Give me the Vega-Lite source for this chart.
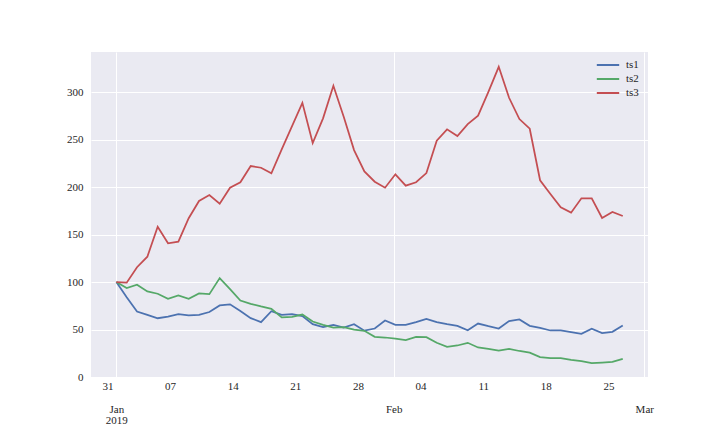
{
  "$schema": "https://vega.github.io/schema/vega-lite/v6.json",
  "width": 557,
  "height": 325,
  "autosize": "none",
  "padding": {"left": 91, "top": 52, "right": 72, "bottom": 55},
  "background": "white",
  "config": {
    "view": {"fill": "#EAEAF2", "stroke": null},
    "font": "Liberation Serif",
    "axis": {"labelFont": "Liberation Serif", "labelFontSize": 11, "labelColor": "#262626", "domain": false, "ticks": false, "gridColor": "white", "gridWidth": 1, "title": null},
    "legend": {"labelFont": "Liberation Serif", "labelFontSize": 11, "labelColor": "#262626"}
  },
  "data": {
    "values": [
      {"date": "2019-01-01T00:00", "ts1": 100, "ts2": 100, "ts3": 100},
      {"date": "2019-01-02T03:43", "ts1": 84, "ts2": 93.7, "ts3": 99.4},
      {"date": "2019-01-03T07:26", "ts1": 69.0, "ts2": 97.2, "ts3": 115.6},
      {"date": "2019-01-04T11:10", "ts1": 65.5, "ts2": 90.1, "ts3": 126.7},
      {"date": "2019-01-05T14:53", "ts1": 61.9, "ts2": 87.7, "ts3": 158.3},
      {"date": "2019-01-06T18:36", "ts1": 63.7, "ts2": 82.4, "ts3": 140.8},
      {"date": "2019-01-07T22:19", "ts1": 66.2, "ts2": 85.9, "ts3": 142.5},
      {"date": "2019-01-09T02:02", "ts1": 64.8, "ts2": 82.4, "ts3": 167.2},
      {"date": "2019-01-10T05:46", "ts1": 65.5, "ts2": 88.0, "ts3": 185.4},
      {"date": "2019-01-11T09:29", "ts1": 68.4, "ts2": 87.3, "ts3": 191.7},
      {"date": "2019-01-12T13:12", "ts1": 75.4, "ts2": 104.2, "ts3": 182.5},
      {"date": "2019-01-13T16:55", "ts1": 76.5, "ts2": 92.6, "ts3": 199.4},
      {"date": "2019-01-14T20:38", "ts1": 69.5, "ts2": 80.6, "ts3": 205.1},
      {"date": "2019-01-16T00:22", "ts1": 62.0, "ts2": 77.1, "ts3": 222.2},
      {"date": "2019-01-17T04:05", "ts1": 57.8, "ts2": 74.3, "ts3": 220.4},
      {"date": "2019-01-18T07:48", "ts1": 69.3, "ts2": 71.8, "ts3": 214.5},
      {"date": "2019-01-19T11:31", "ts1": 65.5, "ts2": 62.7, "ts3": 239.8},
      {"date": "2019-01-20T15:14", "ts1": 66.2, "ts2": 63.4, "ts3": 264.3},
      {"date": "2019-01-21T18:58", "ts1": 64.1, "ts2": 65.8, "ts3": 288.8},
      {"date": "2019-01-22T22:41", "ts1": 55.6, "ts2": 58.4, "ts3": 246.4},
      {"date": "2019-01-24T02:24", "ts1": 52.5, "ts2": 54.9, "ts3": 272.4},
      {"date": "2019-01-25T06:07", "ts1": 54.9, "ts2": 52.1, "ts3": 306.7},
      {"date": "2019-01-26T09:50", "ts1": 52.1, "ts2": 52.5, "ts3": 274.0},
      {"date": "2019-01-27T13:34", "ts1": 55.6, "ts2": 50.0, "ts3": 239.0},
      {"date": "2019-01-28T17:17", "ts1": 48.8, "ts2": 48.6, "ts3": 216.5},
      {"date": "2019-01-29T21:00", "ts1": 51.1, "ts2": 42.3, "ts3": 205.7},
      {"date": "2019-01-31T00:43", "ts1": 59.5, "ts2": 41.6, "ts3": 199.4},
      {"date": "2019-02-01T04:26", "ts1": 54.9, "ts2": 40.5, "ts3": 213.5},
      {"date": "2019-02-02T08:10", "ts1": 54.9, "ts2": 38.8, "ts3": 201.5},
      {"date": "2019-02-03T11:53", "ts1": 57.8, "ts2": 42.3, "ts3": 205.1},
      {"date": "2019-02-04T15:36", "ts1": 61.3, "ts2": 42.0, "ts3": 214.8},
      {"date": "2019-02-05T19:19", "ts1": 57.8, "ts2": 36.0, "ts3": 248.8},
      {"date": "2019-02-06T23:02", "ts1": 55.6, "ts2": 31.8, "ts3": 260.8},
      {"date": "2019-02-08T02:46", "ts1": 53.9, "ts2": 33.2, "ts3": 253.8},
      {"date": "2019-02-09T06:29", "ts1": 49.3, "ts2": 36.0, "ts3": 266.4},
      {"date": "2019-02-10T10:12", "ts1": 56.3, "ts2": 31.1, "ts3": 275.2},
      {"date": "2019-02-11T13:55", "ts1": 53.5, "ts2": 29.6, "ts3": 300.4},
      {"date": "2019-02-12T17:38", "ts1": 51.1, "ts2": 27.8, "ts3": 326.7},
      {"date": "2019-02-13T21:22", "ts1": 58.9, "ts2": 29.6, "ts3": 294.1},
      {"date": "2019-02-15T01:05", "ts1": 60.6, "ts2": 27.4, "ts3": 271.7},
      {"date": "2019-02-16T04:48", "ts1": 53.9, "ts2": 25.7, "ts3": 261.5},
      {"date": "2019-02-17T08:31", "ts1": 51.8, "ts2": 21.0, "ts3": 207.2},
      {"date": "2019-02-18T12:14", "ts1": 49.0, "ts2": 19.8, "ts3": 192.7},
      {"date": "2019-02-19T15:58", "ts1": 49.0, "ts2": 19.8, "ts3": 178.7},
      {"date": "2019-02-20T19:41", "ts1": 47.2, "ts2": 18.0, "ts3": 173.1},
      {"date": "2019-02-21T23:24", "ts1": 45.5, "ts2": 16.6, "ts3": 188.2},
      {"date": "2019-02-23T03:07", "ts1": 50.8, "ts2": 14.5, "ts3": 188.2},
      {"date": "2019-02-24T06:50", "ts1": 46.2, "ts2": 15.2, "ts3": 167.5},
      {"date": "2019-02-25T10:34", "ts1": 47.6, "ts2": 15.9, "ts3": 173.8},
      {"date": "2019-02-26T14:17", "ts1": 54.2, "ts2": 19.1, "ts3": 169.6}
    ]
  },
  "transform": [{"fold": ["ts1", "ts2", "ts3"], "as": ["series", "value"]}],
  "mark": {"type": "line", "strokeWidth": 1.75, "clip": true},
  "encoding": {
    "x": {
      "field": "date",
      "type": "temporal",
      "scale": {"domain": [{"year": 2018, "month": 12, "date": 29, "hours": 4}, {"year": 2019, "month": 3, "date": 1, "hours": 10}], "nice": false},
      "axis": {
        "values": [
          {"year": 2018, "month": 12, "date": 31},
          {"year": 2019, "month": 1, "date": 1},
          {"year": 2019, "month": 1, "date": 7},
          {"year": 2019, "month": 1, "date": 14},
          {"year": 2019, "month": 1, "date": 21},
          {"year": 2019, "month": 1, "date": 28},
          {"year": 2019, "month": 2, "date": 1},
          {"year": 2019, "month": 2, "date": 4},
          {"year": 2019, "month": 2, "date": 11},
          {"year": 2019, "month": 2, "date": 18},
          {"year": 2019, "month": 2, "date": 25},
          {"year": 2019, "month": 3, "date": 1}
        ],
        "labelExpr": "date(datum.value) == 1 ? (month(datum.value) == 0 ? ['Jan', '2019'] : timeFormat(datum.value, '%b')) : timeFormat(datum.value, '%d')",
        "labelOverlap": false,
        "labelFlush": false,
        "labelBound": false,
        "labelBaseline": "top",
        "labelLineHeight": 11,
        "labelPadding": {"condition": {"test": "date(datum.value) == 1", "value": 26}, "value": 3},
        "gridOpacity": {"condition": {"test": "date(datum.value) == 1", "value": 1}, "value": 0}
      }
    },
    "y": {
      "field": "value",
      "type": "quantitative",
      "scale": {"domain": [0, 342.3], "nice": false, "zero": false},
      "axis": {"values": [0, 50, 100, 150, 200, 250, 300], "labelPadding": 8}
    },
    "color": {
      "field": "series",
      "type": "nominal",
      "scale": {"domain": ["ts1", "ts2", "ts3"], "range": ["#4C72B0", "#55A868", "#C44E52"]},
      "legend": {"title": null, "orient": "none", "legendX": 509, "legendY": 5, "padding": 0, "symbolType": "M-1.6,0H1.6", "symbolSize": 196, "symbolStrokeWidth": 2, "rowPadding": 1, "labelOffset": 10, "fillColor": null}
    }
  }
}
